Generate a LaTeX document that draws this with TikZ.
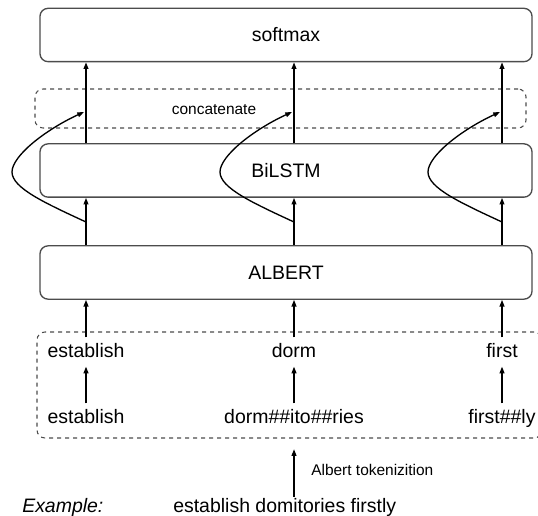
\documentclass[tikz,border=0pt]{standalone}
\usepackage{fontspec}
\setmainfont{Liberation Sans}
\usepackage{tikz}
\usetikzlibrary{arrows.meta}

\tikzset{
  layerbox/.style={draw=black!70, line width=1pt, rounded corners=6pt, minimum width=369pt, minimum height=40pt, inner sep=0pt, font=\fontsize{14.6}{17}\selectfont},
  dashbox/.style={draw=black!70, dashed, line width=0.8pt, rounded corners=6pt, inner sep=0pt},
  word/.style={inner sep=4pt, text height=10.5pt, text depth=3pt, font=\fontsize{14.6}{17}\selectfont},
  smalltext/.style={inner sep=0.75pt, font=\fontsize{11.6}{14}\selectfont},
  arr/.style={line width=1pt, -{Triangle[length=5pt,width=3.6pt]}}
}

\begin{document}
\begin{tikzpicture}[x=0.75pt,y=0.75pt,yscale=-1,xscale=1]
\useasboundingbox (0,0) rectangle (538,516);

%Rounded Rect [softmax]
\node [layerbox] (softmax) at (286,35) {softmax};
%Rounded Rect [concatenate]
\node [dashbox, minimum width=368.25pt, minimum height=29.25pt] (concat) at (280.5,108.5) {};
%Rounded Rect [BiLSTM]
\node [layerbox] (bilstm) at (286,170.5) {BiLSTM};
%Rounded Rect [ALBERT]
\node [layerbox] (albert) at (286,272.5) {ALBERT};
%Rounded Rect [tokens]
\node [dashbox, minimum width=378.75pt, minimum height=79.5pt] (tokens) at (289.5,385) {};

% Text Node
\node [smalltext] (concattext) at (214,110) {concatenate};
% Text Node
\node [word] (est) at (86,352) {establish};
% Text Node
\node [word] (dorm) at (294,352) {dorm};
% Text Node
\node [word] (first) at (502,352) {first};
% Text Node
\node [word] (estsub) at (86,418) {establish};
% Text Node
\node [word] (dormsub) at (294,418) {dorm\#\#ito\#\#ries};
% Text Node
\node [word] (firstsub) at (502,418) {first\#\#ly};
% Text Node
\node [smalltext, anchor=west] (tokname) at (310,470) {Albert tokenizition};
% Text Node
\node [word, anchor=west, inner sep=0.75pt] (example) at (21,507) {\itshape Example:};
% Text Node
\node [word, anchor=west, inner sep=0.75pt] (sent) at (172,507) {establish domitories firstly};

%Straight Lines [tokens -> ALBERT]
\draw [arr] (est) -- (albert.south -| est);
\draw [arr] (dorm) -- (albert.south -| dorm);
\draw [arr] (first) -- (albert.south -| first);
%Straight Lines [sub-words -> words]
\draw [arr] (estsub) -- (est);
\draw [arr] (dormsub) -- (dorm);
\draw [arr] (firstsub) -- (first);
%Straight Lines [ALBERT -> BiLSTM]
\draw [arr] (albert.north -| est) -- (bilstm.south -| est);
\draw [arr] (albert.north -| dorm) -- (bilstm.south -| dorm);
\draw [arr] (albert.north -| first) -- (bilstm.south -| first);
%Straight Lines [BiLSTM -> softmax]
\draw [arr] (bilstm.north -| est) -- (softmax.south -| est);
\draw [arr] (bilstm.north -| dorm) -- (softmax.south -| dorm);
\draw [arr] (bilstm.north -| first) -- (softmax.south -| first);
%Straight Lines [tokenizition]
\draw [arr, shorten >=8pt] (sent.north -| dormsub) -- (tokens.south -| dormsub);

%Curve Lines [backward pass]
\coordinate (la) at (86,222);
\coordinate (ta) at (84,112);
\coordinate (lb) at (294,222);
\coordinate (tb) at (292,112);
\coordinate (lc) at (502,222);
\coordinate (tc) at (500,112);
\draw [arr] (la) .. controls (45,203) and (12,188) .. (12,172) .. controls (12,156) and (45,130) .. (ta);
\draw [arr] (lb) .. controls (253,203) and (220,188) .. (220,172) .. controls (220,156) and (253,130) .. (tb);
\draw [arr] (lc) .. controls (461,203) and (428,188) .. (428,172) .. controls (428,156) and (461,130) .. (tc);

\end{tikzpicture}
\end{document}
